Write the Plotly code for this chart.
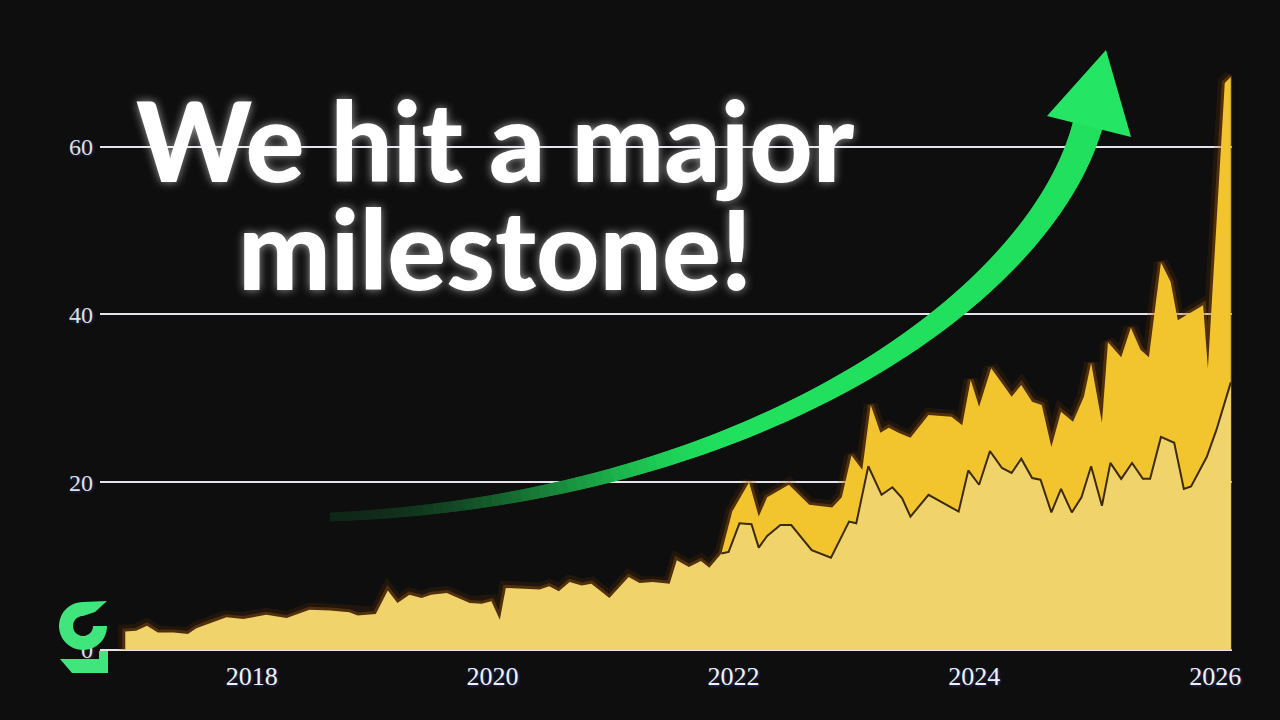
import numpy as np
import plotly.graph_objects as go

# values: x in decimal years, y in the chart's units
base_x = [2016.95, 2017.04, 2017.13, 2017.22, 2017.35, 2017.47, 2017.54, 2017.65, 2017.79, 2017.93,
          2018.12, 2018.29, 2018.48, 2018.65, 2018.81, 2018.88, 2019.03, 2019.13, 2019.21, 2019.31,
          2019.41, 2019.49, 2019.62, 2019.81, 2019.91, 2019.99, 2020.06, 2020.11, 2020.39, 2020.47,
          2020.55, 2020.64, 2020.74, 2020.82, 2020.97, 2021.13, 2021.22, 2021.33, 2021.47, 2021.53,
          2021.63, 2021.73, 2021.80, 2021.90,
          2021.96, 2022.05, 2022.15, 2022.21, 2022.28, 2022.39, 2022.48, 2022.65, 2022.81, 2022.96,
          2023.02, 2023.12, 2023.23, 2023.32, 2023.40, 2023.47, 2023.62, 2023.87, 2023.95, 2024.04,
          2024.13, 2024.23, 2024.31, 2024.39, 2024.48, 2024.55, 2024.64, 2024.72, 2024.81, 2024.89,
          2024.97, 2025.06, 2025.13, 2025.22, 2025.31, 2025.40, 2025.46, 2025.55, 2025.66, 2025.74,
          2025.80, 2025.93, 2026.01, 2026.13]
base_y = [2.2, 2.3, 2.9, 2.1, 2.1, 1.9, 2.6, 3.2, 3.9, 3.7,
          4.2, 3.8, 4.8, 4.7, 4.5, 4.1, 4.3, 7.1, 5.6, 6.6,
          6.2, 6.6, 6.8, 5.6, 5.5, 5.8, 3.6, 7.4, 7.2, 7.6,
          7.0, 8.1, 7.7, 7.9, 6.2, 8.7, 8.0, 8.1, 7.9, 10.7,
          9.9, 10.6, 9.8, 11.5,
          11.7, 15.1, 15.0, 12.2, 13.6, 14.9, 14.9, 11.9, 11.0, 15.3,
          15.1, 21.9, 18.5, 19.4, 18.1, 15.9, 18.5, 16.5, 21.4, 19.7,
          23.7, 21.7, 21.1, 22.8, 20.5, 20.3, 16.4, 19.2, 16.4, 18.2,
          21.9, 17.2, 22.3, 20.4, 22.3, 20.4, 20.4, 25.4, 24.7, 19.2,
          19.5, 23.0, 26.2, 31.9]

total_x = [2021.90, 2021.99, 2022.13, 2022.21, 2022.28, 2022.38, 2022.46, 2022.63, 2022.82, 2022.90,
           2022.98, 2023.07, 2023.14, 2023.22, 2023.29, 2023.37, 2023.47, 2023.62, 2023.81, 2023.90,
           2023.97, 2024.04, 2024.14, 2024.23, 2024.31, 2024.39, 2024.48, 2024.56, 2024.64, 2024.72,
           2024.82, 2024.91, 2024.97, 2025.06, 2025.11, 2025.22, 2025.30, 2025.38, 2025.45, 2025.55,
           2025.63, 2025.69, 2025.90, 2025.94, 2026.08, 2026.13]
total_y = [11.5, 16.5, 20.0, 15.9, 18.2, 19.0, 19.7, 17.3, 17.0, 18.2,
           23.2, 21.5, 29.2, 25.9, 26.5, 25.9, 25.3, 28.0, 27.8, 26.8,
           32.2, 29.0, 33.6, 31.8, 30.2, 31.6, 29.6, 29.2, 24.2, 28.4,
           27.2, 30.2, 34.2, 27.1, 36.7, 34.9, 38.4, 35.8, 34.9, 46.2,
           43.9, 39.3, 41.1, 33.6, 67.6, 68.3]

x_ticks = [2018, 2020, 2022, 2024, 2026]
y_ticks = [0, 20, 40, 60]
headline = ["We hit a major", "milestone!"]

W, H = 1280, 720
L, R, T, B = 100, 48, 46, 70
PW, PH = W - L - R, H - T - B
BG = "#0e0e0e"
GREEN = np.array([32, 224, 94])
BG_RGB = np.array([14, 14, 14])


def to_paper(px, py):
    return (px - L) / PW, (H - B - py) / PH


def poly_path(points):
    parts = []
    for i, (px, py) in enumerate(points):
        x, y = to_paper(px, py)
        parts.append(("M" if i == 0 else "L") + f"{x:.5f},{y:.5f}")
    return " ".join(parts) + " Z"


def rgb(c):
    c = np.clip(c, 0, 255).astype(int)
    return f"rgb({c[0]},{c[1]},{c[2]})"


split = base_x.index(total_x[0])
env_x = [base_x[0]] + base_x[:split] + total_x + [total_x[-1]]
env_y = [0] + base_y[:split] + total_y + [0]

fig = go.Figure()

# soft orange glow along the top of the area
for width, col in [(14, "rgba(120,60,0,0.18)"), (6, "rgba(190,105,15,0.30)")]:
    fig.add_trace(go.Scatter(x=env_x, y=env_y, mode="lines", line=dict(color=col, width=width),
                             hoverinfo="skip", showlegend=False))

fig.add_trace(go.Scatter(x=total_x, y=total_y, mode="lines", fill="tozeroy", fillcolor="#F2C52E",
                         line=dict(width=0, color="#F2C52E"), showlegend=False))
fig.add_trace(go.Scatter(x=base_x, y=base_y, mode="lines", fill="tozeroy", fillcolor="#F1D36C",
                         line=dict(width=0, color="#F1D36C"), showlegend=False))
fig.add_trace(go.Scatter(x=base_x[split:], y=base_y[split:], mode="lines",
                         line=dict(color="#3d2a08", width=2), showlegend=False))

shapes = []

# curved arrow body, built from short segments so the tail can fade
P = np.array([[330, 517], [750, 500], [1040, 300], [1088, 124]], float)
ts = np.linspace(0, 1, 120)
pts = ((1 - ts) ** 3)[:, None] * P[0] + (3 * (1 - ts) ** 2 * ts)[:, None] * P[1] \
    + (3 * (1 - ts) * ts ** 2)[:, None] * P[2] + (ts ** 3)[:, None] * P[3]
der = (3 * (1 - ts) ** 2)[:, None] * (P[1] - P[0]) + (6 * (1 - ts) * ts)[:, None] * (P[2] - P[1]) \
    + (3 * ts ** 2)[:, None] * (P[3] - P[2])
nrm = np.stack([-der[:, 1], der[:, 0]], axis=1)
nrm /= np.linalg.norm(nrm, axis=1)[:, None]
half = 4.5 + 10.5 * ts ** 1.1

for i in range(len(ts) - 1):
    j = min(i + 2, len(ts) - 1)
    s = np.clip(ts[i] / 0.36, 0, 1)
    s = 0.12 + 0.88 * s * s * (3 - 2 * s)
    col = BG_RGB + (GREEN - BG_RGB) * s
    quad = [pts[i] + nrm[i] * half[i], pts[j] + nrm[j] * half[j],
            pts[j] - nrm[j] * half[j], pts[i] - nrm[i] * half[i]]
    shapes.append(dict(type="path", xref="paper", yref="paper", path=poly_path(quad),
                       fillcolor=rgb(col), line=dict(width=0), layer="above"))

# arrow head
shapes.append(dict(type="path", xref="paper", yref="paper",
                   path=poly_path([(1047, 116), (1106, 50), (1131, 137)]),
                   fillcolor="rgb(36,230,100)", line=dict(width=0), layer="above"))

# logo
cx, cy, ro, ri = 83, 626, 24, 10
outer = [(107, 601), (cx, cy - ro)]
for a in np.linspace(90, 360, 40):
    outer.append((cx + ro * np.cos(np.radians(a)), cy - ro * np.sin(np.radians(a))))
inner = []
for a in np.linspace(360, 90, 40):
    inner.append((cx + ri * np.cos(np.radians(a)), cy - ri * np.sin(np.radians(a))))
g_top = outer + inner + [(95, 612)]
shapes.append(dict(type="path", xref="paper", yref="paper", path=poly_path(g_top),
                   fillcolor="#40E67C", line=dict(width=0), layer="above"))
g_bot = [(60, 659), (99, 659), (99, 651), (108, 651), (108, 673), (72, 673)]
shapes.append(dict(type="path", xref="paper", yref="paper", path=poly_path(g_bot),
                   fillcolor="#40E67C", line=dict(width=0), layer="above"))

title_font = dict(family="Lato", size=110, color="#ffffff", weight=900,
                  shadow="0px 0px 10px rgba(255,255,255,0.6)")
annotations = []
for text, yc in zip(headline, [139, 247]):
    xp, yp = to_paper(495, yc)
    annotations.append(dict(text=text, x=xp, y=yp, xref="paper", yref="paper", xanchor="center",
                            yanchor="middle", showarrow=False, font=title_font))

fig.update_layout(
    width=W, height=H,
    margin=dict(l=L, r=R, t=T, b=B),
    paper_bgcolor=BG, plot_bgcolor=BG,
    showlegend=False,
    shapes=shapes,
    annotations=annotations,
)
fig.update_xaxes(range=[2016.74, 2026.14], tickvals=x_ticks, ticktext=[str(v) for v in x_ticks],
                 showgrid=False, zeroline=False, showline=False, ticks="", ticklabelstandoff=8,
                 tickfont=dict(family="Liberation Serif", size=26, color="#f2f2f2",
                               shadow="1px 1px 3px rgba(60,80,200,0.6)"))
fig.update_yaxes(range=[0, 72], tickvals=y_ticks, showgrid=True, gridcolor="#e4e4ec", gridwidth=2,
                 zeroline=True, zerolinecolor="#e4e4ec", zerolinewidth=2, showline=False, ticks="",
                 ticklabelstandoff=6,
                 tickfont=dict(family="Liberation Serif", size=24, color="#e0e0e0",
                               shadow="1px 1px 3px rgba(60,80,200,0.5)"))

fig.write_html("out.html", config={"displayModeBar": False},
               post_script="document.body.style.margin='0';"
                           "document.body.style.backgroundColor='#0e0e0e';")
